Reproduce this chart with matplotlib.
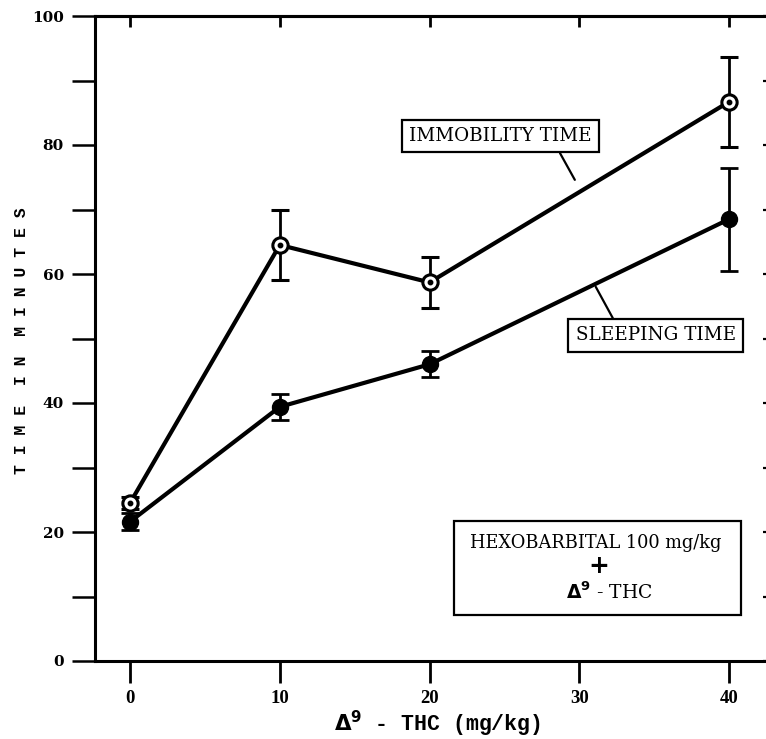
import matplotlib
matplotlib.use("Agg")
import matplotlib.pyplot as plt
from matplotlib.patches import Rectangle

# ---- data ----
dose = [0, 10, 20, 40]
immobility = [24.5, 64.5, 58.7, 86.7]
immobility_err = [1.0, 5.5, 4.0, 7.0]
sleeping = [21.6, 39.4, 46.0, 68.5]
sleeping_err = [1.3, 2.0, 2.0, 8.0]
xticks = [0, 10, 20, 30, 40]
yticks = [0, 20, 40, 60, 80, 100]
yminor = [10, 30, 50, 70, 90]

W, H = 766, 739
fig = plt.figure(figsize=(W / 100, H / 100), dpi=100)
fig.patch.set_facecolor("white")

# axes: left spine at x=95px, bottom y=661px, top y=16px, right spine just off-image
ax = fig.add_axes([95 / W, (H - 661) / H, (774 - 95) / W, (661 - 16) / H])
ax.set_xlim(-2.34, 43.0)
ax.set_ylim(0, 100)

for s in ax.spines.values():
    s.set_linewidth(2.2)
    s.set_color("black")

# series
ax.errorbar(dose, sleeping, yerr=sleeping_err, color="black", lw=3.0,
            elinewidth=2.0, capsize=6.5, capthick=2.0, marker="o",
            markersize=11.5, markerfacecolor="black", markeredgecolor="black",
            zorder=3)
ax.errorbar(dose, immobility, yerr=immobility_err, color="black", lw=3.0,
            elinewidth=2.0, capsize=6.5, capthick=2.0, marker="o",
            markersize=11, markerfacecolor="white", markeredgecolor="black",
            markeredgewidth=2.2, zorder=4)
ax.plot(dose, immobility, linestyle="none", marker="o", markersize=3.2,
        color="black", zorder=5)

# ticks
ax.set_xticks(xticks)
ax.set_xticklabels([str(v) for v in xticks], fontfamily="Liberation Serif",
                   fontweight="bold", fontsize=13.5)
ax.set_yticks(yticks)
ax.set_yticks(yminor, minor=True)
ax.set_yticklabels([str(v) for v in yticks], fontfamily="DejaVu Serif",
                   fontweight="bold", fontsize=11)
ax.tick_params(axis="x", which="major", direction="out", length=16, width=2.0,
               pad=5, bottom=True, top=False)
ax.tick_params(axis="y", which="both", direction="out", length=16.5, width=1.8,
               pad=6, left=True, right=False)

# top (inward) ticks and right (inward) ticks via secondary axes
top = ax.secondary_xaxis("top")
top.set_xticks(xticks)
top.tick_params(direction="in", length=8, width=2.0, labeltop=False)
top.spines["top"].set_linewidth(2.2)
right = ax.secondary_yaxis("right")
right.set_yticks(yticks + yminor)
right.tick_params(direction="in", length=8, width=1.6, labelright=False)

# annotations
ax.annotate("IMMOBILITY TIME", xy=(29.7, 74.6), xytext=(24.75, 81.4),
            ha="center", va="center", fontfamily="DejaVu Serif", fontsize=13.2,
            bbox=dict(boxstyle="square,pad=0.4", fc="white", ec="black", lw=1.6),
            arrowprops=dict(arrowstyle="-", relpos=(0.8, 0.0), lw=1.6,
                            shrinkA=0, shrinkB=0, color="black"),
            zorder=6)
ax.annotate("SLEEPING TIME", xy=(31.1, 58.0), xytext=(35.1, 50.5),
            ha="center", va="center", fontfamily="DejaVu Serif", fontsize=13.2,
            bbox=dict(boxstyle="square,pad=0.4", fc="white", ec="black", lw=1.6),
            arrowprops=dict(arrowstyle="-", relpos=(0.26, 1.0), lw=1.6,
                            shrinkA=0, shrinkB=0, color="black"),
            zorder=6)

# hexobarbital box
ax.add_patch(Rectangle((0.528, 0.0714), 0.424, 0.1456, transform=ax.transAxes,
                       fill=False, ec="black", lw=1.6, zorder=6))
ax.text(0.737, 0.183, "HEXOBARBITAL 100 mg/kg", transform=ax.transAxes,
        ha="center", va="center", fontfamily="DejaVu Serif", fontsize=12.8)
ax.text(0.742, 0.147, "+", transform=ax.transAxes, ha="center", va="center",
        fontfamily="DejaVu Sans", fontweight="bold", fontsize=18)
ax.text(0.757, 0.107, r"$\mathbf{\Delta}^{\mathbf{9}}$ - THC", transform=ax.transAxes,
        ha="center", va="center", fontfamily="DejaVu Serif", fontsize=13.5)

# axis labels
fig.text(22 / W, 1 - 341 / H, "T I M E  I N  M I N U T E S", rotation=90,
         ha="center", va="center", fontfamily="Liberation Mono",
         fontweight="bold", fontsize=11.8)
fig.text(437 / W, 1 - 724 / H, r"$\mathbf{\Delta}^{\mathbf{9}}$ - THC (mg/kg)",
         ha="center", va="center", fontfamily="Liberation Mono",
         fontweight="bold", fontsize=15.5)

fig.savefig("out.png", dpi=100, facecolor="white")
